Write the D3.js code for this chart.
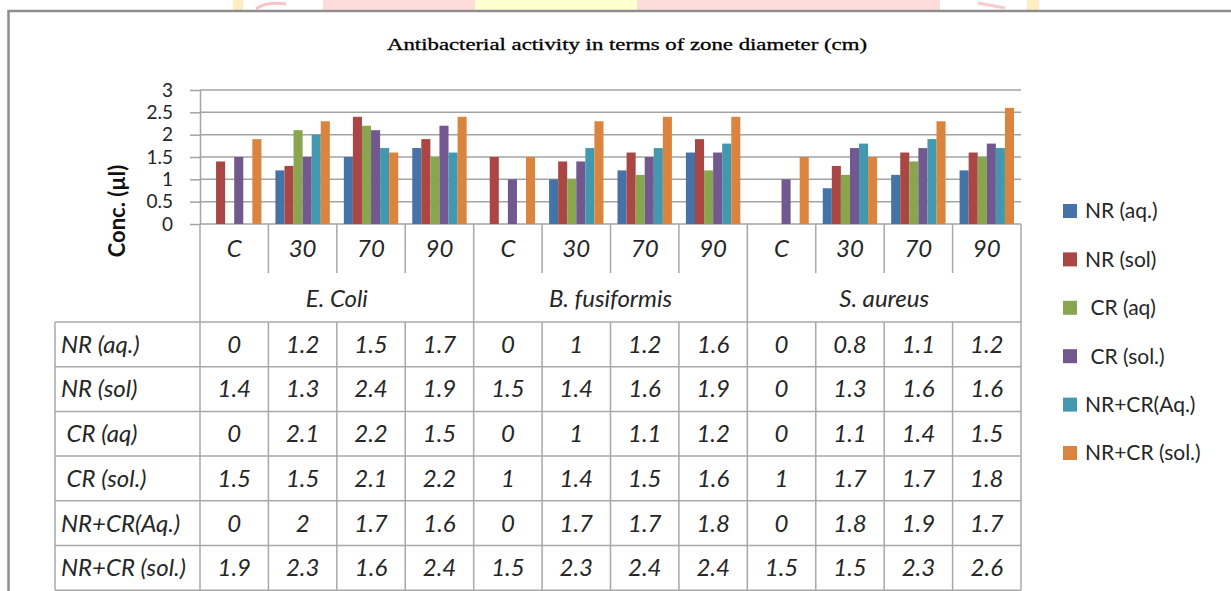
<!DOCTYPE html>
<html>
<head>
<meta charset="utf-8">
<style>
body { margin: 0; background: #fff; }
svg { display: block; }
text { font-family: "Lato", "DejaVu Sans", sans-serif; fill: #262626; }
.cell { font-style: italic; font-size: 24px; }
.grid line { stroke: #a3a3a3; stroke-width: 1.5; }
.table line { stroke: #a8a8a8; stroke-width: 1.5; }
</style>
</head>
<body>
<svg id="chart" width="1231" height="591"></svg>
<script src="https://d3js.org/d3.v7.min.js"></script>
<script>
    // categories
    const organisms = ["E. Coli", "B. fusiformis", "S. aureus"];
    const doses = ["C", "30", "70", "90"];
    const seriesNames = ["NR (aq.)", "NR (sol)", " CR (aq)", " CR (sol.)", "NR+CR(Aq.)", "NR+CR (sol.)"];
    const seriesColors = ["#4572a7", "#aa4643", "#89a54e", "#71588f", "#4198af", "#db843d"];

    // values, one per (organism, dose), in table order
    const nrAq     = [0, 1.2, 1.5, 1.7,   0, 1, 1.2, 1.6,     0, 0.8, 1.1, 1.2];
    const nrSol    = [1.4, 1.3, 2.4, 1.9, 1.5, 1.4, 1.6, 1.9, 0, 1.3, 1.6, 1.6];
    const crAq     = [0, 2.1, 2.2, 1.5,   0, 1, 1.1, 1.2,     0, 1.1, 1.4, 1.5];
    const crSol    = [1.5, 1.5, 2.1, 2.2, 1, 1.4, 1.5, 1.6,   1, 1.7, 1.7, 1.8];
    const nrCrAq   = [0, 2, 1.7, 1.6,     0, 1.7, 1.7, 1.8,   0, 1.8, 1.9, 1.7];
    const nrCrSol  = [1.9, 2.3, 1.6, 2.4, 1.5, 2.3, 2.4, 2.4, 1.5, 1.5, 2.3, 2.6];
    const seriesValues = [nrAq, nrSol, crAq, crSol, nrCrAq, nrCrSol];

    const yTicks = [0, 0.5, 1, 1.5, 2, 2.5, 3];

    const svg = d3.select("#chart");
    const plotLeft = 200, plotRight = 1021, plotTop = 90, plotBottom = 224;
    const tableLeft = 55, tableTop = 322, rowH = 44.7;
    const catRowBottom = 273;

    const keys = organisms.flatMap(o => doses.map(d => o + "|" + d));

    const x0 = d3.scaleBand().domain(keys).range([plotLeft, plotRight]);
    const x1 = d3.scaleBand().domain(d3.range(seriesNames.length)).range([7, x0.bandwidth() - 7]);
    const y = d3.scaleLinear().domain([0, 3]).range([plotBottom, plotTop]);
    const gx = d3.scaleBand().domain(organisms).range([plotLeft, plotRight]);

    // faint watermark behind the top border
    const wm = svg.append("g").attr("class", "watermark");
    [[323, 475, "#ffdcdc"], [475, 637, "#ffffd0"], [637, 940, "#ffdcdc"], [233, 243, "#ffecc0"], [1027, 1039, "#ffecc0"]]
        .forEach(r => wm.append("rect").attr("x", r[0]).attr("y", 0).attr("width", r[1] - r[0]).attr("height", 10).style("fill", r[2]));
    wm.append("path").attr("d", "M256,9 Q266,1 286,4").style("fill", "none").style("stroke", "#f6c4c4").style("stroke-width", 3);
    wm.append("path").attr("d", "M978,3 L1005,8").style("fill", "none").style("stroke", "#f8cccc").style("stroke-width", 3);

    // outer chart border
    svg.append("path")
        .attr("d", "M8.5,600 V11 H1240")
        .style("fill", "none")
        .style("stroke", "#8e8e8e")
        .style("stroke-width", 2.5);

    // title
    svg.append("text")
        .attr("x", 627)
        .attr("y", 50)
        .attr("text-anchor", "middle")
        .attr("textLength", 480)
        .attr("lengthAdjust", "spacingAndGlyphs")
        .style("font-family", "'Liberation Serif', serif")
        .style("font-size", "17px")
        .style("fill", "#000")
        .style("stroke", "#000")
        .style("stroke-width", 0.3)
        .text("Antibacterial activity in terms of zone diameter (cm)");

    // gridlines
    svg.append("g").attr("class", "grid")
        .selectAll("line")
        .data(yTicks)
        .enter()
        .append("line")
        .attr("x1", plotLeft)
        .attr("x2", plotRight)
        .attr("y1", d => y(d))
        .attr("y2", d => y(d));

    // y axis
    const yAxis = svg.append("g")
        .attr("transform", `translate(${plotLeft},0)`)
        .call(d3.axisLeft(y).tickValues(yTicks).tickSize(10).tickSizeOuter(0).tickPadding(17).tickFormat(d => d));
    yAxis.selectAll("path, line").style("stroke", "#a3a3a3").style("stroke-width", 1.5);
    yAxis.selectAll("text")
        .style("font-family", "Lato")
        .style("font-size", "19px")
        .style("fill", "#262626");

    svg.append("text")
        .attr("transform", "translate(125,211) rotate(-90)")
        .attr("text-anchor", "middle")
        .style("font-size", "22px")
        .style("font-weight", "bold")
        .style("fill", "#111")
        .text("Conc. (µl)");

    // bars
    seriesValues.forEach((vals, i) => {
        svg.append("g")
            .selectAll("rect")
            .data(vals)
            .enter()
            .append("rect")
            .attr("x", (d, j) => x0(keys[j]) + x1(i))
            .attr("y", d => y(d))
            .attr("width", x1.bandwidth())
            .attr("height", d => y(0) - y(d))
            .style("fill", seriesColors[i]);
    });

    // data table lines
    const table = svg.append("g").attr("class", "table");
    const tableBottom = tableTop + rowH * seriesNames.length;
    const bounds = keys.map(k => x0(k)).concat([plotRight]);

    bounds.forEach((bx, j) => {
        const groupEdge = (j % doses.length === 0);
        if (groupEdge) {
            table.append("line").attr("x1", bx).attr("x2", bx).attr("y1", plotBottom).attr("y2", tableBottom);
        } else {
            table.append("line").attr("x1", bx).attr("x2", bx).attr("y1", plotBottom).attr("y2", catRowBottom);
            table.append("line").attr("x1", bx).attr("x2", bx).attr("y1", tableTop).attr("y2", tableBottom);
        }
    });
    table.append("line").attr("x1", tableLeft).attr("x2", tableLeft).attr("y1", tableTop).attr("y2", tableBottom);
    d3.range(seriesNames.length + 1).forEach(r => {
        const ry = tableTop + r * rowH;
        table.append("line").attr("x1", tableLeft).attr("x2", plotRight).attr("y1", ry).attr("y2", ry);
    });

    // category labels
    svg.append("g")
        .selectAll("text")
        .data(keys)
        .enter()
        .append("text")
        .attr("class", "cell")
        .attr("x", d => x0(d) + x0.bandwidth() / 2)
        .attr("y", 249)
        .attr("dy", "0.35em")
        .attr("text-anchor", "middle")
        .text(d => d.split("|")[1]);

    svg.append("g")
        .selectAll("text")
        .data(organisms)
        .enter()
        .append("text")
        .attr("class", "cell")
        .attr("x", d => gx(d) + gx.bandwidth() / 2)
        .attr("y", 299)
        .attr("dy", "0.35em")
        .attr("text-anchor", "middle")
        .text(d => d);

    // table row labels and values
    seriesNames.forEach((name, i) => {
        const cy = tableTop + i * rowH + rowH / 2;
        svg.append("text")
            .attr("class", "cell")
            .attr("x", 61)
            .attr("y", cy)
            .attr("dy", "0.35em")
            .style("white-space", "pre")
            .text(name);

        svg.append("g")
            .selectAll("text")
            .data(seriesValues[i])
            .enter()
            .append("text")
            .attr("class", "cell")
            .attr("x", (d, j) => x0(keys[j]) + x0.bandwidth() / 2)
            .attr("y", cy)
            .attr("dy", "0.35em")
            .attr("text-anchor", "middle")
            .text(d => d);
    });

    // legend
    const legend = svg.append("g")
        .selectAll("g")
        .data(seriesNames)
        .enter()
        .append("g")
        .attr("transform", (d, i) => `translate(1063,${211 + i * 48.4})`);
    legend.append("rect")
        .attr("x", 0)
        .attr("y", -7)
        .attr("width", 14)
        .attr("height", 14)
        .style("fill", (d, i) => seriesColors[i]);
    legend.append("text")
        .attr("x", 22)
        .attr("y", 0)
        .attr("dy", "0.35em")
        .style("font-size", "21px")
        .style("white-space", "pre")
        .text(d => d);
</script>
</body>
</html>
